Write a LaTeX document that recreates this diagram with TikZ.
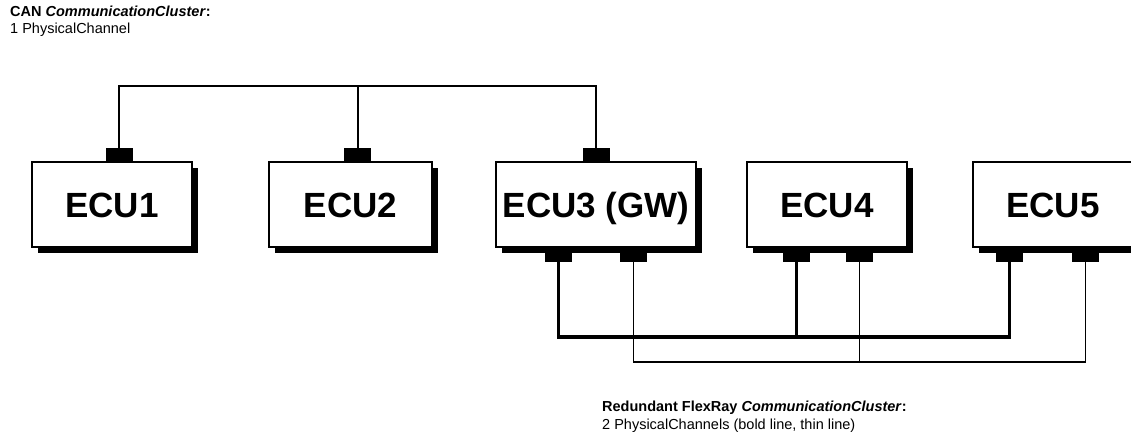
\documentclass[tikz,border=0pt]{standalone}
\usepackage{fontspec}
\setmainfont{Liberation Sans}
\usetikzlibrary{shadows}
\begin{document}
\begin{tikzpicture}[x=1pt,y=-1pt,
  ecu/.style={draw=black, line width=2pt, fill=white, minimum height=85pt, inner sep=0pt,
    text height=25pt, text depth=0pt,
    font=\fontsize{35}{40}\selectfont\bfseries,
    drop shadow={shadow xshift=6pt, shadow yshift=-6pt, opacity=1, fill=black}},
  port/.style={fill=black, draw=none, minimum width=27pt, inner sep=0pt, outer sep=0pt},
  toport/.style={port, minimum height=13pt, anchor=south},
  botport/.style={port, minimum height=14pt, anchor=north},
  canline/.style={line width=2pt},
  thickbus/.style={line width=3.5pt},
  thinbus/.style={line width=1.6pt},
  lbl/.style={anchor=base west, inner sep=0pt, font=\fontsize{14.5}{17}\selectfont}
]
\useasboundingbox (0,0) rectangle (1131,441);

% ECU boxes
\node[ecu, minimum width=160pt] (e1) at (112,204.5) {ECU1};
\node[ecu, minimum width=163pt] (e2) at (350.5,204.5) {ECU2};
\node[ecu, minimum width=200pt] (e3) at (596,204.5) {ECU3 (GW)};
\node[ecu, minimum width=160pt] (e4) at (827,204.5) {ECU4};
\node[ecu, minimum width=160pt] (e5) at (1053,204.5) {ECU5};

% CAN ports
\node[toport] (c1) at (119,161) {};
\node[toport] (c2) at (357.5,161) {};
\node[toport] (c3) at (596,161) {};

% FlexRay ports
\node[botport] (a3) at (558.5,248) {};
\node[botport] (b3) at (633.5,248) {};
\node[botport] (a4) at (796.5,248) {};
\node[botport] (b4) at (859.5,248) {};
\node[botport] (a5) at (1009.5,248) {};
\node[botport] (b5) at (1085.5,248) {};

% CAN bus
\coordinate (cl) at (119,86);
\coordinate (cm) at (357.5,86);
\coordinate (cr) at (596,86);
\draw[canline] (c1.north) -- (cl) -- (cr) -- (c3.north);
\draw[canline] (c2.north) -- (cm);

% FlexRay channel A (bold)
\coordinate (ka) at (558.5,337);
\coordinate (kb) at (796.5,337);
\coordinate (kc) at (1009.5,337);
\draw[thickbus] (a3.south) -- (ka) -- (kc) -- (a5.south);
\draw[thickbus] (a4.south) -- (kb);

% FlexRay channel B (thin)
\coordinate (ta) at (633.5,362);
\coordinate (tb) at (859.5,362);
\coordinate (tc) at (1085.5,362);
\draw[thinbus] (b3.south) -- (ta) -- (tc) -- (b5.south);
\draw[thinbus] (b4.south) -- (tb);

% Labels
\node[lbl] (t1) at (10,17) {\textbf{CAN \textit{CommunicationCluster}:}};
\node[lbl] (t2) at (10,34) {1 PhysicalChannel};
\node[lbl] (t3) at (602,411) {\textbf{Redundant FlexRay \textit{CommunicationCluster}:}};
\node[lbl] (t4) at (602,429) {2 PhysicalChannels (bold line, thin line)};
\end{tikzpicture}
\end{document}
